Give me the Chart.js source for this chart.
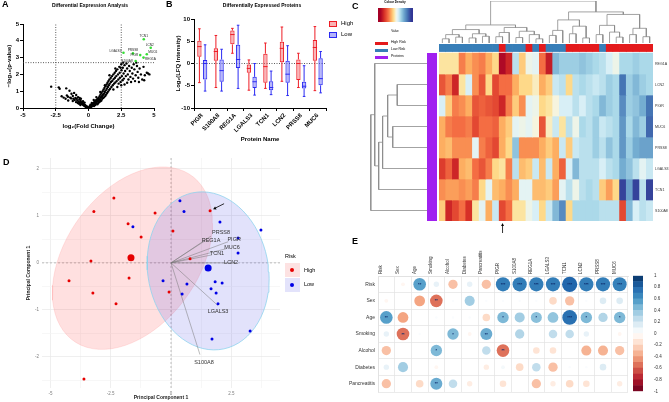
<!DOCTYPE html>
<html>
<head>
<meta charset="utf-8">
<script src="https://cdn.jsdelivr.net/npm/chart.js@4.4.1/dist/chart.umd.min.js"></script>
<style>
  body { margin: 0; background: #fff; }
  #fig { position: relative; width: 669px; height: 402px; overflow: hidden; font-family: 'Liberation Sans', Arial, sans-serif; }
  #fig canvas { position: absolute; }
  .t { position: absolute; white-space: nowrap; line-height: 1; color: #000; }
  .letter { font-weight: bold; font-size: 9px; }
  .sw { position: absolute; }
</style>
</head>
<body>
<div id="fig">
  <canvas id="cA" width="165" height="140" style="left:0;top:0"></canvas>
  <canvas id="cB" width="200" height="143" style="left:165px;top:0"></canvas>
  <canvas id="cTree" width="334" height="44" style="left:335px;top:0"></canvas>
  <canvas id="cHeat" width="334" height="240" style="left:335px;top:0"></canvas>
  <canvas id="cRowTree" width="59" height="168" style="left:368px;top:53px"></canvas>
  <canvas id="cPurple" width="10" height="168" style="left:427px;top:53px"></canvas>
  <canvas id="cKey" width="40" height="24" style="left:376px;top:7px"></canvas>
  <canvas id="cD" width="300" height="252" style="left:0;top:150px"></canvas>
  <canvas id="cE" width="340" height="172" style="left:300px;top:228px"></canvas>
  <canvas id="cBar" width="41" height="127" style="left:628px;top:270px"></canvas>

  <div class="t letter" style="left:2px;top:0">A</div>
  <div class="t" style="left:40px;width:100px;top:3px;text-align:center;font-size:5px;font-weight:bold">Differential Expression Analysis</div>
  <div class="t letter" style="left:166px;top:0">B</div>
  <div class="t" style="left:212px;width:100px;top:3px;text-align:center;font-size:5px;font-weight:bold">Differentially Expressed Proteins</div>
  <div class="sw" style="left:329px;top:21px;width:6px;height:4px;border:1px solid #ee1c25;background:#f9b3b5"></div>
  <div class="t" style="left:341px;top:20px;font-size:6px">High</div>
  <div class="sw" style="left:329px;top:32px;width:6px;height:4px;border:1px solid #2a2af2;background:#b3b3fa"></div>
  <div class="t" style="left:341px;top:31px;font-size:6px">Low</div>

  <div class="t letter" style="left:352px;top:2px">C</div>
  <div class="t" style="left:375px;width:40px;top:1px;text-align:center;font-size:3px;font-weight:bold">Colour Density</div>
  <div class="t" style="left:375px;width:40px;top:30px;text-align:center;font-size:3px">Value</div>
  <div class="sw" style="left:375px;top:42px;width:13px;height:3px;background:#e41a1c"></div>
  <div class="t" style="left:391px;top:41px;font-size:3.5px">High Risk</div>
  <div class="sw" style="left:375px;top:49px;width:13px;height:3px;background:#377eb8"></div>
  <div class="t" style="left:391px;top:48px;font-size:3.5px">Low Risk</div>
  <div class="sw" style="left:375px;top:56px;width:13px;height:3px;background:#a020f0"></div>
  <div class="t" style="left:391px;top:55px;font-size:3.5px">Proteins</div>

  <div class="t letter" style="left:3px;top:158px">D</div>
  <div class="t" style="left:285px;top:254px;font-size:5.5px">Risk</div>
  <div class="sw" style="left:285px;top:263px;width:15px;height:14px;background:#fde2e2"></div>
  <div class="sw" style="left:290px;top:268px;width:4px;height:4px;border-radius:50%;background:#e60000"></div>
  <div class="t" style="left:304px;top:268px;font-size:5.5px">High</div>
  <div class="sw" style="left:285px;top:278px;width:15px;height:14px;background:#e3e3fb"></div>
  <div class="sw" style="left:290px;top:283px;width:4px;height:4px;border-radius:50%;background:#0000e6"></div>
  <div class="t" style="left:304px;top:282px;font-size:5.5px">Low</div>

  <div class="t letter" style="left:352px;top:237px">E</div>
</div>

<script>
// ---------- A: volcano ----------
var volcanoBg = [
  [-2.85,1.27],[-2.27,1.23],[-2.2,1.15],[-1.7,1.17],[-1.45,1.03],[-1.57,0.67],[-1.32,0.57],[-0.94,0.77],
  [-1.1,0.9],[-1.2,0.72],[-1.0,0.6],[-0.9,0.55],[-0.85,0.45],[-0.8,0.65],[-0.75,0.38],[-0.7,0.5],
  [-0.65,0.32],[-0.6,0.42],[-0.55,0.28],[-0.5,0.35],[-0.48,0.22],[-0.45,0.3],[-0.4,0.18],[-0.38,0.26],
  [-0.35,0.15],[-0.3,0.2],[-0.28,0.12],[-0.25,0.16],[-0.22,0.08],[-0.2,0.12],[-0.18,0.05],[-0.15,0.09],
  [-0.12,0.04],[-0.1,0.07],[-0.08,0.02],[-0.05,0.03],[-0.03,0.01],[-1.3,0.85],[-1.65,0.75],[-1.9,0.62],
  [-1.75,0.55],[-2.05,0.7],[-1.55,0.45],[-1.2,0.42],[-0.95,0.35],[-0.72,0.25],[-0.62,0.18],[-0.58,0.55],
  [-0.82,0.3],[-1.05,0.48],[-1.4,0.62],[-0.42,0.4],[-0.3,0.32],[-0.68,0.6],[-1.15,0.55],
  [0.03,0.01],[0.05,0.03],[0.08,0.05],[0.1,0.02],[0.12,0.08],[0.15,0.06],[0.18,0.1],[0.2,0.14],
  [0.22,0.07],[0.25,0.18],[0.28,0.12],[0.3,0.22],[0.32,0.15],[0.35,0.28],[0.38,0.2],[0.4,0.3],
  [0.42,0.12],[0.45,0.35],[0.48,0.25],[0.5,0.4],[0.52,0.18],[0.55,0.32],[0.58,0.45],[0.6,0.28],
  [0.62,0.5],[0.65,0.38],[0.68,0.22],[0.7,0.55],[0.72,0.42],[0.75,0.3],[0.78,0.6],[0.8,0.48],
  [0.82,0.35],[0.85,0.7],[0.88,0.52],[0.9,0.4],[0.92,0.8],[0.95,0.62],[0.98,0.45],[1.0,0.9],
  [1.02,0.7],[1.05,0.55],[1.08,1.0],[1.1,0.78],[1.12,0.6],[1.15,1.1],[1.18,0.85],[1.2,0.65],
  [1.22,1.2],[1.25,0.95],[1.28,0.72],[1.3,1.3],[1.32,1.05],[1.35,0.8],[1.38,1.4],[1.4,1.15],
  [1.42,0.9],[1.45,1.5],[1.48,1.25],[1.5,0.98],[1.52,1.6],[1.55,1.35],[1.58,1.08],[1.6,1.7],
  [1.62,1.45],[1.65,1.15],[1.7,1.8],[1.72,1.55],[1.75,1.25],[1.8,1.9],[1.82,1.62],[1.85,1.35],
  [1.9,2.0],[1.92,1.72],[1.95,1.45],[2.0,2.1],[2.02,1.8],[2.05,1.52],[2.1,2.2],[2.12,1.9],
  [2.15,1.6],[2.2,2.3],[2.25,2.0],[2.28,1.7],[2.3,1.45],[2.35,2.45],[2.38,2.1],[2.4,1.8],
  [2.45,1.55],[2.5,2.6],[2.52,2.25],[2.55,1.9],[2.6,1.65],[2.62,2.4],[2.68,2.05],[2.7,1.75],
  [2.75,2.55],[2.8,2.2],[2.85,1.9],[2.9,2.65],[2.95,2.35],[3.0,2.0],[3.05,1.7],[3.1,2.5],
  [3.15,2.2],[3.2,1.85],[3.3,2.4],[3.35,2.05],[3.4,1.75],[3.45,2.6],[3.5,2.3],[3.6,1.95],
  [3.7,2.5],[3.75,2.15],[3.8,1.8],[3.9,2.35],[4.0,2.0],[4.1,1.7],[4.2,2.45],[4.3,1.95],
  [4.45,2.1],[4.55,2.05],[4.65,2.0],[3.25,1.55],[2.95,1.5],[3.55,1.6],[3.85,1.55],[4.25,1.65],
  [2.5,1.35],[2.2,1.25],[1.9,1.1],[2.75,1.4],[0.6,0.65],[0.4,0.48],[0.25,0.3],[0.15,0.2],
  [0.1,0.12],[0.9,0.95],[1.25,1.35],[1.6,1.95],[2.05,2.35],[2.45,2.4],[3.65,2.7],[2.65,2.7]
];
var volcanoHits = [[2.67,3.29],[3.39,3.25],[4.22,4.09],[4.75,3.59],[3.95,3.15],[4.45,3.2],[4.2,3.0],[3.6,2.8]];
var volcanoHitNames = ['LGALS3','PRSS8','TCN1','LCN2','PIGR','MUC6','REG1A','S100A8'];
var foldCut = 2.5;
var pCut = 2.7;

// ---------- B: box plots ----------
var proteins = ['PIGR','S100A8','REG1A','LGALS3','TCN1','LCN2','PRSS8','MUC6'];
var highMin = [-4.3,-5.4,2.3,-6.0,-5.6,-4.0,-5.4,-6.1];
var highQ1  = [1.5,0.6,4.3,-2.1,-4.3,0.3,-3.7,0.6];
var highMed = [3.8,2.7,6.5,-1.1,-0.7,3.4,0.0,3.6];
var highQ3  = [5.1,3.4,7.4,-0.2,2.2,4.9,0.9,5.3];
var highMax = [7.8,6.3,7.9,0.8,4.6,8.2,2.3,8.3];
var lowMin = [-6.2,-6.2,-5.6,-7.1,-7.0,-7.2,-7.4,-6.6];
var lowQ1  = [-3.6,-4.1,-1.0,-5.5,-6.0,-4.3,-5.6,-4.9];
var lowMed = [0.0,-1.6,0.9,-4.1,-5.4,-2.4,-5.1,-3.4];
var lowQ3  = [0.8,0.9,4.2,-3.0,-4.0,0.6,-4.1,1.2];
var lowMax = [4.2,3.2,8.6,0.0,-1.7,4.0,-0.5,2.7];

// ---------- C: heatmap ----------
var heatRows = ['REG1A','LCN2','PIGR','MUC6','PRSS8','LGALS3','TCN1','S100A8'];
var heatValues = [
  [-0.2,-0.2,-0.2,-0.9,-0.6,-0.8,-0.9,-0.6,-0.3,-1.9,-1.6,0.5,-0.4,0.1,0.2,-1.0,-1.7,0.9,0.7,0.7,0.7,0.8,0.7,0.6,0.5,0.3,0.1,0.6,0.6,0.7,0.6,0.6],
  [-1.2,-0.9,-1.6,-0.2,0.3,-0.8,-1.2,-0.3,-1.3,-1.0,-1.0,-0.6,-0.3,-0.3,-0.1,-0.6,-0.4,0.4,0.5,-0.3,0.5,0.6,0.5,0.4,0.5,0.7,0.6,1.5,0.7,0.9,0.7,0.6],
  [0.3,-0.4,-0.9,-0.8,-0.6,-1.2,-1.1,-1.2,-1.3,-1.6,-0.9,-0.4,-0.8,0.2,0.1,-0.3,-0.2,0.0,0.3,0.3,0.5,0.3,0.5,0.6,0.9,0.7,0.6,1.3,0.7,0.8,1.0,1.5],
  [-0.6,-0.9,-1.0,-1.0,-0.9,-1.3,-1.0,-1.0,-1.1,-0.6,-0.4,0.2,0.1,0.2,0.0,-1.2,-0.1,0.4,-0.2,0.5,0.1,0.6,0.5,0.7,0.4,0.5,0.6,1.2,0.6,0.9,0.7,1.6],
  [-0.6,-0.5,-0.8,-0.8,-0.8,0.2,-0.9,-1.1,-1.3,-0.6,-0.3,0.8,-0.8,-0.8,-0.8,-0.6,-0.4,-0.6,0.4,-0.4,0.4,0.5,0.5,0.7,0.5,0.8,0.6,1.2,0.7,1.0,1.1,1.1],
  [-1.4,-1.1,-1.6,-0.6,-0.5,-1.0,-1.2,-0.9,-0.3,-0.2,-0.9,0.5,-0.5,-0.4,0.4,-0.5,0.4,-0.6,-1.1,0.3,0.9,0.5,0.5,0.5,0.3,0.5,0.6,1.0,0.8,0.5,0.2,0.4],
  [-0.8,-0.7,-0.7,-0.8,-0.7,-0.9,-0.3,0.2,-0.5,-0.6,-0.8,-0.6,0.2,0.2,-0.5,-0.5,-0.4,-0.7,0.2,0.5,0.1,0.5,0.6,0.5,-0.4,-0.7,-0.3,1.9,1.1,1.9,0.5,1.9],
  [-0.4,-1.6,-1.3,-1.0,-1.5,-0.2,0.2,-0.6,0.4,-1.3,-1.0,-0.2,-0.2,0.1,0.3,-0.3,0.4,0.9,1.3,-0.3,0.6,0.6,0.6,0.6,0.5,0.5,0.5,-1.3,0.9,0.3,0.5,0.4]
];
var riskGroups = ['Low','Low','Low','Low','Low','Low','Low','Low','Low','High','Low','Low','Low','High','Low','High',
                  'Low','Low','Low','High','High','High','High','High','Low','High','High','High','High','High','High','High'];
// dendrograms: [height, left, right], leaves are column / row indices
var colTree = [1.0,
  [0.43,
    [0.32, [0.2,[0.1,0,1],[0.14,2,3]], [0.22,[0.12,4,5],[0.16,6,7]]],
    [0.37, [0.25,[0.15,8,9],10], [0.28,[0.13,11,12],[0.2,13,[0.1,14,15]]]]],
  [0.74,
    [0.55, [0.3,[0.18,16,17],18], [0.4,[0.22,19,20],[0.12,21,22]]],
    [0.68, [0.42,[0.2,23,24],[0.26,25,[0.14,26,27]]], [0.35,[0.2,28,29],[0.15,30,31]]]]];
var rowTree = [1.0, [0.93, 0, [0.86, [0.79, [0.7, [0.53,1,2], [0.61,3,4]], 5], 6]], 7];
var arrowColumn = 9;

// ---------- D: PCA biplot ----------
var pcaHigh = [[-2.37,1.38],[-3.20,1.09],[-0.66,1.06],[-1.78,0.83],[0.08,0.68],[-1.24,0.55],[1.62,1.11],[-3.32,0.04],
               [0.79,0.09],[-1.74,-0.32],[-4.23,-0.38],[-3.24,-0.64],[-2.28,-0.87],[-0.08,-0.62],[-3.61,-2.47]];
var pcaLow = [[0.37,1.32],[0.54,1.09],[-1.58,0.77],[2.03,0.87],[3.73,0.70],[2.78,0.53],[2.78,0.21],[-0.33,-0.38],
              [0.66,-0.45],[0.46,-0.66],[1.83,-0.40],[2.12,-0.43],[1.66,-0.55],[1.87,-0.64],[1.95,-0.87],[1.70,-1.62],[3.28,-1.45]];
var centroidHigh = [-1.66, 0.11];
var centroidLow = [1.54, -0.11];
var loadNames = ['PRSS8','REG1A','PIGR','MUC6','TCN1','LCN2','LGALS3','S100A8'];
var loadX = [1.66,1.41,2.37,2.28,1.70,2.66,1.95,1.2];
var loadY = [0.57,0.47,0.45,0.30,0.17,0.0,-0.91,-1.95];
var ellipseHigh = { cx: -1.6, cy: 0.1, sx: 3.32, sy: 1.94, r: 0.38 };
var ellipseLow = { cx: 1.54, cy: -0.17, sx: 2.53, sy: 1.68, r: -0.1 };
var arrowedHigh = 6;

// ---------- E: correlation matrix ----------
var corrRows = ['Risk','Sex','Age','Smoking','Alcohol','Diabetes','Pancreatitis'];
var corrCols = ['Risk','Sex','Age','Smoking','Alcohol','Diabetes','Pancreatitis','PIGR','S100A8','REG1A','LGALS3','TCN1','LCN2','PRSS8','MUC6'];
var corrValues = [
  [null,-0.05,0.55,0.1,-0.3,0.1,-0.3,0.7,0.7,0.7,0.7,0.8,0.7,0.7,0.68],
  [-0.05,null,-0.4,-0.55,0.02,0.35,0.02,0.02,0.02,0.02,-0.2,-0.3,0.02,0.15,0.15],
  [0.55,-0.4,null,0.02,0.02,0.02,-0.2,0.45,0.35,0.42,0.4,0.75,0.45,0.3,0.45],
  [0.1,-0.55,0.02,null,0.45,-0.05,0.5,0.0,0.3,0.0,0.25,0.25,0.1,0.0,-0.05],
  [-0.3,0.0,0.0,0.45,null,0.0,0.25,-0.55,0.0,-0.15,-0.15,0.0,-0.35,-0.35,-0.3],
  [0.1,0.35,0.0,-0.05,0.0,null,-0.1,0.05,-0.2,0.25,-0.3,0.02,0.02,0.15,0.0],
  [-0.3,0.0,-0.2,0.5,0.25,-0.1,null,-0.15,0.0,-0.3,-0.1,-0.2,-0.15,0.0,-0.1]
];
var corrStars = [
  ['','','**','','','','','***','***','***','***','***','***','***','***'],
  ['','','','**','','','','','','','','','','',''],
  ['**','','','','','','','*','','*','','***','*','','*'],
  ['','**','','','*','','**','','','','','','','',''],
  ['','','','*','','','','**','','','','','','',''],
  ['','','','','','','','','','','','','','',''],
  ['','','','**','','','','','','','','','','','']
];

// ---------- setup ----------
Chart.defaults.font.family = "'Liberation Sans', Arial, sans-serif";
Chart.defaults.font.size = 6;
Chart.defaults.color = '#000';
Chart.defaults.animation = false;
Chart.defaults.responsive = false;
Chart.defaults.devicePixelRatio = 1;
Chart.defaults.events = [];
Chart.defaults.plugins.legend.display = false;
Chart.defaults.plugins.tooltip.enabled = false;

function el(id) { return document.getElementById(id); }

// fix an axis box so the plot areas land where the figure has them
function pin(size) {
  return function (scale) {
    if (scale.isHorizontal()) { scale.height = size; } else { scale.width = size; }
  };
}

function prismGrid() {
  return { display: true, drawOnChartArea: false, color: '#000', tickLength: 3, lineWidth: 1 };
}
function prismBorder() {
  return { display: true, color: '#000', width: 1 };
}
var boldFont = { size: 6, weight: 'bold' };

function ramp(stops, v) {
  if (v <= stops[0][0]) return 'rgb(' + stops[0][1].join(',') + ')';
  for (var i = 1; i < stops.length; i++) {
    if (v <= stops[i][0]) {
      var a = stops[i - 1], b = stops[i], f = (v - a[0]) / (b[0] - a[0]);
      return 'rgb(' + [0, 1, 2].map(function (k) { return Math.round(a[1][k] + f * (b[1][k] - a[1][k])); }).join(',') + ')';
    }
  }
  return 'rgb(' + stops[stops.length - 1][1].join(',') + ')';
}
var heatStops = [[-2,[165,0,38]],[-1.5,[215,48,39]],[-1,[244,109,67]],[-0.6,[253,174,97]],[-0.25,[254,224,144]],
                 [0,[246,244,222]],[0.25,[224,243,248]],[0.6,[171,217,233]],[1,[116,173,209]],[1.5,[69,117,180]],[2,[49,54,149]]];
var corrStops = [[-1,[103,0,31]],[-0.8,[178,24,43]],[-0.6,[214,96,77]],[-0.4,[244,165,130]],[-0.2,[253,219,199]],
                 [0,[255,255,255]],[0.2,[209,229,240]],[0.4,[146,197,222]],[0.6,[67,147,195]],[0.8,[33,102,172]],[1,[5,48,97]]];
function heatColor(v) { return ramp(heatStops, v); }
function corrColor(v) { return ramp(corrStops, v); }
function xy(p) { return { x: p[0], y: p[1] }; }

// ---------- A ----------
var dashLine = { showLine: true, borderColor: '#333', borderWidth: 0.8, borderDash: [1, 1.5], pointRadius: 0 };
var volcanoLabelPos = { LGALS3: [-2, -1.5, 'right'], PRSS8: [0, -3, 'center'], TCN1: [0, -3, 'center'], LCN2: [-1, -3, 'center'],
                        PIGR: [-2, 0.5, 'right'], MUC6: [1.5, -2.5, 'left'], REG1A: [1.5, 1.5, 'left'], S100A8: [-3, 0, 'right'] };
new Chart(el('cA'), {
  type: 'scatter',
  data: {
    datasets: [
      { data: volcanoHits.map(xy), backgroundColor: '#33dd33', pointRadius: 1.3, borderWidth: 0 },
      { data: volcanoBg.map(xy), backgroundColor: '#000', pointRadius: 1.2, borderWidth: 0 },
      Object.assign({ data: [{ x: -foldCut, y: 0 }, { x: -foldCut, y: 5 }] }, dashLine),
      Object.assign({ data: [{ x: foldCut, y: 0 }, { x: foldCut, y: 5 }] }, dashLine),
      Object.assign({ data: [{ x: -5, y: pCut }, { x: 5, y: pCut }] }, dashLine)
    ]
  },
  options: {
    layout: { padding: { top: 24, right: 11 } },
    scales: {
      x: { min: -5, max: 5, ticks: { stepSize: 2.5, font: boldFont, padding: 1, maxRotation: 0 },
           grid: prismGrid(), border: prismBorder(),
           title: { display: true, text: 'log₂(Fold Change)', font: boldFont, padding: { top: 0, bottom: 10 } },
           afterFit: pin(32) },
      y: { min: 0, max: 5, ticks: { stepSize: 1, font: boldFont, padding: 1 },
           grid: prismGrid(), border: prismBorder(),
           title: { display: true, text: '−log₁₀(p-value)', font: boldFont, padding: { top: 6, bottom: 0 } },
           afterFit: pin(23) }
    }
  },
  plugins: [{
    id: 'hitLabels',
    afterDatasetsDraw: function (chart) {
      var ctx = chart.ctx, sx = chart.scales.x, sy = chart.scales.y;
      ctx.save();
      ctx.font = "3.2px 'Liberation Sans', Arial, sans-serif";
      ctx.fillStyle = '#222';
      ctx.textBaseline = 'middle';
      volcanoHits.forEach(function (p, i) {
        var pos = volcanoLabelPos[volcanoHitNames[i]];
        ctx.textAlign = pos[2];
        ctx.fillText(volcanoHitNames[i], sx.getPixelForValue(p[0]) + pos[0], sy.getPixelForValue(p[1]) + pos[1]);
      });
      ctx.restore();
    }
  }]
});

// ---------- B ----------
var highStats = { min: highMin, q1: highQ1, med: highMed, q3: highQ3, max: highMax };
var lowStats = { min: lowMin, q1: lowQ1, med: lowMed, q3: lowQ3, max: lowMax };
new Chart(el('cB'), {
  type: 'bar',
  data: {
    labels: proteins,
    datasets: [
      { label: 'High', data: proteins.map(function (p, i) { return [highQ1[i], highQ3[i]]; }),
        backgroundColor: 'rgba(245,120,125,0.55)', borderColor: '#ee1c25', borderWidth: 1, borderSkipped: false,
        barPercentage: 0.76, categoryPercentage: 0.69 },
      { label: 'Low', data: proteins.map(function (p, i) { return [lowQ1[i], lowQ3[i]]; }),
        backgroundColor: 'rgba(125,125,245,0.55)', borderColor: '#2a2af2', borderWidth: 1, borderSkipped: false,
        barPercentage: 0.76, categoryPercentage: 0.69 }
    ]
  },
  options: {
    layout: { padding: { top: 19, right: 39 } },
    scales: {
      x: { ticks: { font: boldFont, minRotation: 45, maxRotation: 45, padding: 1, autoSkip: false },
           grid: prismGrid(), border: prismBorder(),
           title: { display: true, text: 'Protein Name', font: boldFont, padding: { top: 0, bottom: 0 } },
           afterFit: pin(35) },
      y: { min: -10, max: 10, ticks: { stepSize: 5, font: boldFont, padding: 1 },
           grid: prismGrid(), border: prismBorder(),
           title: { display: true, text: 'Log₂(LFQ Intensity)', font: boldFont, padding: { top: 10, bottom: 0 } },
           afterFit: pin(29) }
    }
  },
  plugins: [{
    id: 'boxWhiskers',
    beforeDatasetsDraw: function (chart) {
      var ctx = chart.ctx, a = chart.chartArea, y0 = chart.scales.y.getPixelForValue(0);
      ctx.save();
      ctx.strokeStyle = '#333';
      ctx.lineWidth = 0.8;
      ctx.setLineDash([1, 1.5]);
      ctx.beginPath(); ctx.moveTo(a.left, y0); ctx.lineTo(a.right, y0); ctx.stroke();
      ctx.restore();
    },
    afterDatasetsDraw: function (chart) {
      var ctx = chart.ctx, sy = chart.scales.y;
      [highStats, lowStats].forEach(function (st, d) {
        var meta = chart.getDatasetMeta(d);
        ctx.save();
        ctx.strokeStyle = chart.data.datasets[d].borderColor;
        ctx.lineWidth = 1;
        meta.data.forEach(function (bar, i) {
          var p = bar.getProps(['x', 'width'], true), half = p.width / 2, cap = p.width * 0.3;
          var yMin = sy.getPixelForValue(st.min[i]), yQ1 = sy.getPixelForValue(st.q1[i]);
          var yMed = sy.getPixelForValue(st.med[i]), yQ3 = sy.getPixelForValue(st.q3[i]);
          var yMax = sy.getPixelForValue(st.max[i]);
          ctx.beginPath();
          ctx.moveTo(p.x - half, yMed); ctx.lineTo(p.x + half, yMed);
          ctx.moveTo(p.x, yQ3); ctx.lineTo(p.x, yMax);
          ctx.moveTo(p.x, yQ1); ctx.lineTo(p.x, yMin);
          ctx.moveTo(p.x - cap, yMax); ctx.lineTo(p.x + cap, yMax);
          ctx.moveTo(p.x - cap, yMin); ctx.lineTo(p.x + cap, yMin);
          ctx.stroke();
        });
        ctx.restore();
      });
    }
  }]
});

// ---------- C ----------
function walkTree(node, segs) {
  if (typeof node === 'number') return { pos: node + 0.5, h: 0 };
  var a = walkTree(node[1], segs), b = walkTree(node[2], segs);
  segs.push([[a.pos, a.h], [a.pos, node[0]], [b.pos, node[0]], [b.pos, b.h]]);
  return { pos: (a.pos + b.pos) / 2, h: node[0] };
}
var treeLine = { showLine: true, borderColor: '#8c8c8c', borderWidth: 0.8, pointRadius: 0 };

var colSegs = [];
walkTree(colTree, colSegs);
new Chart(el('cTree'), {
  type: 'scatter',
  data: { datasets: colSegs.map(function (s) {
    return Object.assign({ data: s.map(function (p) { return { x: p[0], y: p[1] }; }) }, treeLine);
  }) },
  options: {
    layout: { padding: { left: 104, right: 16, top: 1, bottom: 1 } },
    scales: { x: { type: 'linear', min: 0, max: 32, display: false }, y: { min: 0, max: 1, display: false } }
  }
});

var rowSegs = [];
walkTree(rowTree, rowSegs);
new Chart(el('cRowTree'), {
  type: 'scatter',
  data: { datasets: rowSegs.map(function (s) {
    return Object.assign({ data: s.map(function (p) { return { x: p[1], y: p[0] }; }) }, treeLine);
  }) },
  options: {
    scales: { x: { type: 'linear', min: 0, max: 1.05, reverse: true, display: false },
              y: { min: 0, max: 8, reverse: true, display: false } }
  }
});

var colLabels = riskGroups.map(function (g, i) { return 'S' + (i + 1); });
var heatSets = heatRows.map(function (name, r) {
  return { label: name, data: heatValues[r].map(function () { return [r, r + 1]; }),
           backgroundColor: heatValues[r].map(heatColor), borderWidth: 0 };
});
heatSets.push({ label: 'Risk', data: riskGroups.map(function () { return [-0.43, -0.07]; }),
                backgroundColor: riskGroups.map(function (g) { return g === 'High' ? '#e41a1c' : '#377eb8'; }), borderWidth: 0 });
new Chart(el('cHeat'), {
  type: 'bar',
  data: { labels: colLabels, datasets: heatSets },
  options: {
    layout: { padding: { left: 104, right: 16, top: 44, bottom: 19 } },
    datasets: { bar: { grouped: false, barPercentage: 1, categoryPercentage: 1 } },
    scales: { x: { display: false }, y: { min: -0.43, max: 8, reverse: true, display: false } }
  },
  plugins: [{
    id: 'heatExtras',
    afterDatasetsDraw: function (chart) {
      var ctx = chart.ctx, a = chart.chartArea, sy = chart.scales.y;
      ctx.save();
      ctx.font = "3.6px 'Liberation Sans', Arial, sans-serif";
      ctx.fillStyle = '#333';
      ctx.textBaseline = 'middle';
      heatRows.forEach(function (name, r) { ctx.fillText(name, a.right + 2, sy.getPixelForValue(r + 0.5)); });
      var ax = chart.scales.x.getPixelForValue(arrowColumn);
      ctx.strokeStyle = '#000'; ctx.fillStyle = '#000'; ctx.lineWidth = 0.8;
      ctx.beginPath(); ctx.moveTo(ax, a.bottom + 12); ctx.lineTo(ax, a.bottom + 4); ctx.stroke();
      ctx.beginPath(); ctx.moveTo(ax, a.bottom + 2); ctx.lineTo(ax - 1.5, a.bottom + 5); ctx.lineTo(ax + 1.5, a.bottom + 5); ctx.fill();
      ctx.restore();
    }
  }]
});

new Chart(el('cPurple'), {
  type: 'bar',
  data: { labels: ['Proteins'], datasets: [{ data: [[0, 8]], backgroundColor: '#a020f0', borderWidth: 0 }] },
  options: {
    datasets: { bar: { barPercentage: 1, categoryPercentage: 1 } },
    scales: { x: { display: false }, y: { min: 0, max: 8, display: false } }
  }
});

var keySets = [];
for (var kv = -2.25; kv < 2.25; kv += 0.125) {
  keySets.push({ data: [[kv, kv + 0.125]], backgroundColor: heatColor(kv + 0.0625), borderWidth: 0 });
}
new Chart(el('cKey'), {
  type: 'bar',
  data: { labels: [''], datasets: keySets },
  options: {
    indexAxis: 'y',
    layout: { padding: { left: 2, right: 3, top: 1 } },
    datasets: { bar: { grouped: false, barPercentage: 1, categoryPercentage: 1 } },
    scales: {
      x: { type: 'linear', min: -2.25, max: 2.25, ticks: { stepSize: 1, includeBounds: false, font: { size: 3.5 }, padding: 1 },
           grid: { display: false }, border: { display: false }, afterFit: pin(9) },
      y: { display: false }
    }
  }
});

// ---------- D ----------
function ellipsePoints(e) {
  var pts = [];
  for (var k = 0; k <= 72; k++) {
    var t = k / 72 * 2 * Math.PI;
    pts.push({ x: e.cx + e.sx * Math.cos(t), y: e.cy + e.sy * (e.r * Math.cos(t) + Math.sqrt(1 - e.r * e.r) * Math.sin(t)) });
  }
  return pts;
}
var pcaSets = [
  { data: ellipsePoints(ellipseHigh), showLine: true, fill: 'shape', backgroundColor: 'rgba(255,0,0,0.12)',
    borderColor: 'rgba(255,150,150,0.5)', borderWidth: 0.5, pointRadius: 0, order: 10 },
  { data: ellipsePoints(ellipseLow), showLine: true, fill: 'shape', backgroundColor: 'rgba(60,60,230,0.15)',
    borderColor: '#8fd3ee', borderWidth: 0.8, pointRadius: 0, order: 9 }
];
loadNames.forEach(function (n, i) {
  pcaSets.push({ data: [{ x: 0, y: 0 }, { x: loadX[i], y: loadY[i] }], showLine: true, borderColor: '#777',
                 borderWidth: 0.5, pointRadius: 0, order: 5 });
});
pcaSets.push({ data: pcaHigh.map(xy), backgroundColor: '#e60000', pointRadius: 1.5, borderWidth: 0, order: 2 });
pcaSets.push({ data: pcaLow.map(xy), backgroundColor: '#0000e6', pointRadius: 1.5, borderWidth: 0, order: 2 });
pcaSets.push({ data: [xy(centroidHigh)], backgroundColor: '#e60000', pointRadius: 3.5, borderWidth: 0, order: 1 });
pcaSets.push({ data: [xy(centroidLow)], backgroundColor: '#0000e6', pointRadius: 3.5, borderWidth: 0, order: 1 });

function ggGrid(step) {
  return { color: function (c) { return Math.abs(c.tick.value % step) < 1e-9 ? '#e8e8e8' : '#f4f4f4'; },
           lineWidth: 0.7, drawTicks: false };
}
var ggTicks = { font: { size: 4.5 }, color: '#7f7f7f', padding: 3,
                callback: function (v) { return Math.abs(v % this.options.ticks.majorStep) < 1e-9 ? String(v) : ''; } };
var loadLabelOff = { PRSS8: [10, -4], REG1A: [6, 0], PIGR: [6, -2], MUC6: [6, -1], TCN1: [5, -1], LCN2: [-4, 0], LGALS3: [0, 6], S100A8: [4, 8] };
new Chart(el('cD'), {
  type: 'scatter',
  data: { datasets: pcaSets },
  options: {
    layout: { padding: { top: 8, right: 20 } },
    scales: {
      x: { min: -5.35, max: 4.52, grid: ggGrid(2.5), border: { display: false },
           ticks: Object.assign({ majorStep: 2.5 }, ggTicks),
           afterBuildTicks: function (s) { s.ticks = [-5, -3.75, -2.5, -1.25, 0, 1.25, 2.5, 3.75].map(function (v) { return { value: v }; }); },
           title: { display: true, text: 'Principal Component 1', font: { size: 5, weight: 'bold' }, color: '#222', padding: { top: 0, bottom: 1 } },
           afterFit: pin(14) },
      y: { min: -2.66, max: 2.23, grid: ggGrid(1), border: { display: false },
           ticks: Object.assign({ majorStep: 1 }, ggTicks),
           afterBuildTicks: function (s) { s.ticks = [-2.5, -2, -1.5, -1, -0.5, 0, 0.5, 1, 1.5, 2].map(function (v) { return { value: v }; }); },
           title: { display: true, text: 'Principal Component 1', font: { size: 5, weight: 'bold' }, color: '#222', padding: { top: 26, bottom: 0 } },
           afterFit: pin(42) }
    }
  },
  plugins: [{
    id: 'biplotExtras',
    beforeDatasetsDraw: function (chart) {
      var ctx = chart.ctx, a = chart.chartArea, x0 = chart.scales.x.getPixelForValue(0), y0 = chart.scales.y.getPixelForValue(0);
      ctx.save();
      ctx.strokeStyle = '#999'; ctx.lineWidth = 0.6; ctx.setLineDash([2, 2]);
      ctx.beginPath(); ctx.moveTo(x0, a.top); ctx.lineTo(x0, a.bottom); ctx.moveTo(a.left, y0); ctx.lineTo(a.right, y0); ctx.stroke();
      ctx.restore();
    },
    afterDatasetsDraw: function (chart) {
      var ctx = chart.ctx, sx = chart.scales.x, sy = chart.scales.y;
      ctx.save();
      ctx.font = "5.5px 'Liberation Sans', Arial, sans-serif";
      ctx.fillStyle = '#333'; ctx.textAlign = 'center'; ctx.textBaseline = 'middle';
      loadNames.forEach(function (n, i) {
        var off = loadLabelOff[n];
        ctx.fillText(n, sx.getPixelForValue(loadX[i]) + off[0], sy.getPixelForValue(loadY[i]) + off[1]);
      });
      var px = sx.getPixelForValue(pcaHigh[arrowedHigh][0]), py = sy.getPixelForValue(pcaHigh[arrowedHigh][1]);
      ctx.strokeStyle = '#000'; ctx.fillStyle = '#000'; ctx.lineWidth = 0.8;
      ctx.beginPath(); ctx.moveTo(px + 14, py - 7); ctx.lineTo(px + 5, py - 2.5); ctx.stroke();
      ctx.beginPath(); ctx.moveTo(px + 3, py - 1.5); ctx.lineTo(px + 6.5, py - 1.2); ctx.lineTo(px + 5, py - 4.3); ctx.fill();
      ctx.restore();
    }
  }]
});

// ---------- E ----------
var corrPoints = [];
corrRows.forEach(function (rn, i) {
  corrCols.forEach(function (cn, j) {
    var v = corrValues[i][j];
    if (v !== null) corrPoints.push({ x: cn, y: rn, r: 8.5 * Math.sqrt(Math.abs(v)), v: v, s: corrStars[i][j] });
  });
});
var corrGrid = { offset: true, color: '#e2e2e2', lineWidth: 0.7, drawTicks: false };
new Chart(el('cE'), {
  type: 'bubble',
  data: { datasets: [{ data: corrPoints, borderWidth: 0,
                       backgroundColor: function (c) { return c.raw ? corrColor(c.raw.v) : '#fff'; } }] },
  options: {
    layout: { padding: { right: 12, bottom: 8 } },
    scales: {
      x: { type: 'category', labels: corrCols, position: 'top', offset: true, grid: corrGrid, border: { color: '#e2e2e2' },
           ticks: { font: { size: 4.5 }, color: '#333', minRotation: 90, maxRotation: 90, autoSkip: false, padding: 2 },
           afterFit: pin(48) },
      y: { type: 'category', labels: corrRows, offset: true, grid: corrGrid, border: { color: '#e2e2e2' },
           ticks: { font: { size: 5 }, color: '#333', autoSkip: false, padding: 3 },
           afterFit: pin(78) }
    }
  },
  plugins: [{
    id: 'stars',
    afterDatasetsDraw: function (chart) {
      var ctx = chart.ctx, meta = chart.getDatasetMeta(0);
      ctx.save();
      ctx.font = "bold 4px 'Liberation Sans', Arial, sans-serif";
      ctx.fillStyle = '#0d2a6b'; ctx.textAlign = 'center'; ctx.textBaseline = 'middle';
      meta.data.forEach(function (pt, k) { if (corrPoints[k].s) ctx.fillText(corrPoints[k].s, pt.x, pt.y + 0.5); });
      ctx.restore();
    }
  }]
});

var barSets = [];
for (var bv = -1; bv < 0.999; bv += 0.1) {
  barSets.push({ data: [[bv, bv + 0.1]], backgroundColor: corrColor(bv + 0.05), borderWidth: 0 });
}
new Chart(el('cBar'), {
  type: 'bar',
  data: { labels: [''], datasets: barSets },
  options: {
    layout: { padding: { left: 5, top: 5, bottom: 5 } },
    datasets: { bar: { grouped: false, barPercentage: 1, categoryPercentage: 1 } },
    scales: {
      x: { display: false },
      y: { position: 'right', min: -1, max: 1,
           ticks: { stepSize: 0.2, font: { size: 4.5 }, color: '#333', padding: 3,
                    callback: function (v) { return String(Math.round(v * 10) / 10); } },
           grid: { display: false }, border: { display: false }, afterFit: pin(26) }
    }
  }
});
</script>
</body>
</html>
